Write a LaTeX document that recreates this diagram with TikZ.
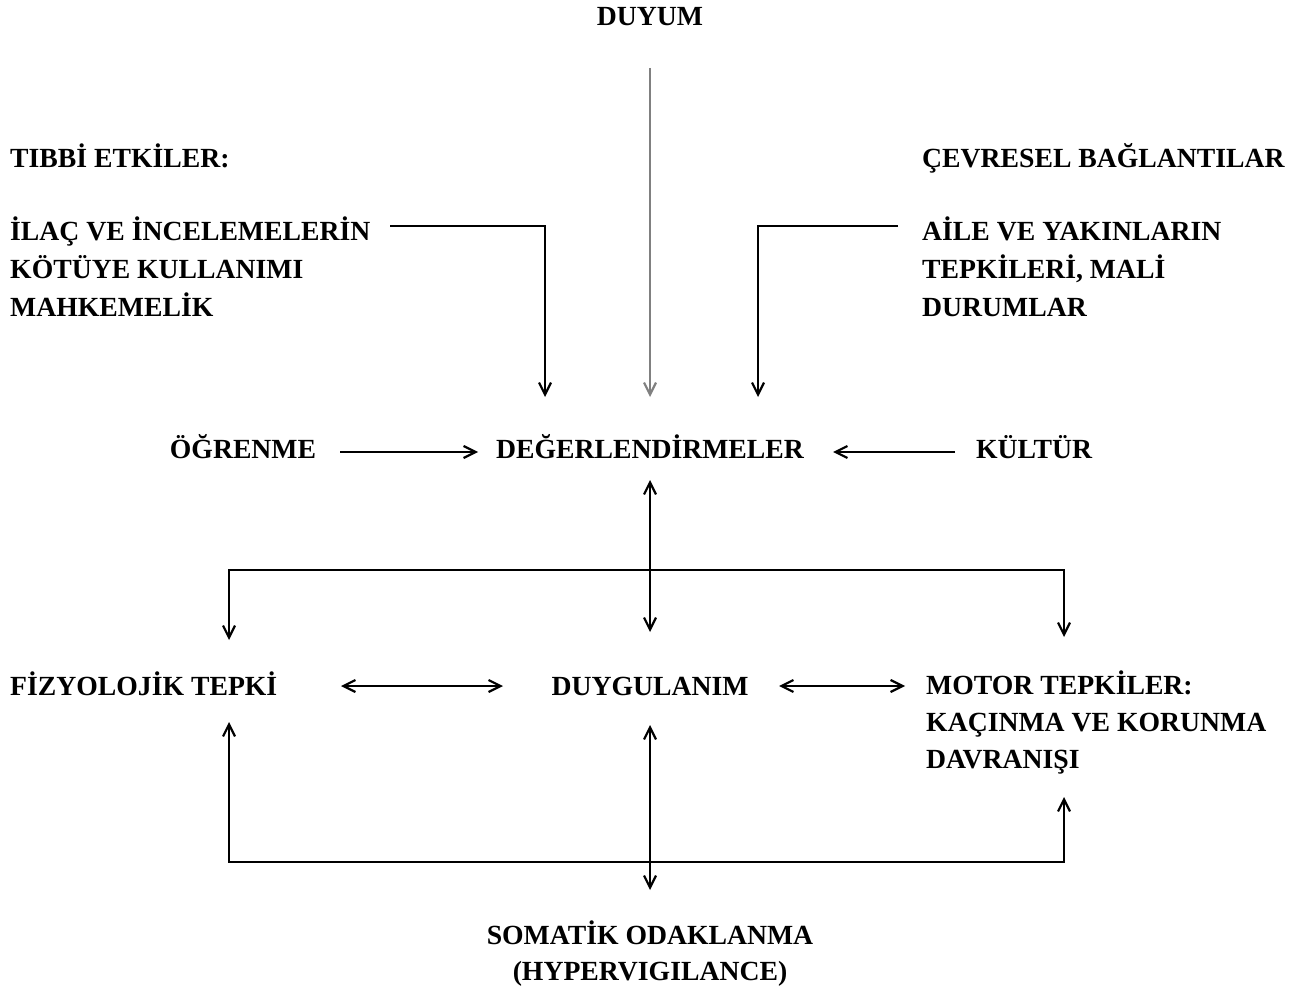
\documentclass[tikz,border=0pt]{standalone}
\usepackage{fontspec}
\setmainfont{Liberation Serif}
\usetikzlibrary{arrows.meta,calc}
\begin{document}
\begin{tikzpicture}[x=1pt,y=-1pt,
  lbl/.style={inner sep=0pt,font=\bfseries\fontsize{27.7}{38}\selectfont},
  tip/.tip={Straight Barb[length=12pt,width=12pt,line width=2.2pt]},
  conn/.style={line width=2pt,-tip},
  dconn/.style={line width=2pt,tip-tip},
  plain/.style={line width=2pt}]
\useasboundingbox (0,0) rectangle (1298,992);
% nodes
\node[lbl,anchor=base] (duyum) at (650,26) {DUYUM};
\node[lbl,anchor=base west] (tibbi) at (10,168) {TIBBİ ETKİLER:};
\node[lbl,anchor=north west,align=left] (ilac) at (10,213.4) {\strut İLAÇ VE İNCELEMELERİN\\KÖTÜYE KULLANIMI\\MAHKEMELİK};
\node[lbl,anchor=base west] (cevre) at (922,168) {ÇEVRESEL BAĞLANTILAR};
\node[lbl,anchor=north west,align=left] (aile) at (922,213.4) {\strut AİLE VE YAKINLARIN\\TEPKİLERİ, MALİ\\DURUMLAR};
\node[lbl,anchor=base] (ogr) at (243,458) {ÖĞRENME};
\node[lbl,anchor=base] (deg) at (650,458) {DEĞERLENDİRMELER};
\node[lbl,anchor=base] (kul) at (1034,458) {KÜLTÜR};
\node[lbl,anchor=base west] (fiz) at (10,695) {FİZYOLOJİK TEPKİ};
\node[lbl,anchor=base] (duyg) at (650,695) {DUYGULANIM};
\node[lbl,anchor=north west,align=left,font=\bfseries\fontsize{27.7}{37}\selectfont] (motor) at (926,668.4) {\strut MOTOR TEPKİLER:\\KAÇINMA VE KORUNMA\\DAVRANIŞI};
\node[lbl,anchor=north,align=center,font=\bfseries\fontsize{27.7}{36}\selectfont] (som) at (650,919.4) {\strut SOMATİK ODAKLANMA\\(HYPERVIGILANCE)};
% connector points
\coordinate (ilacR) at (390,226);
\coordinate (aileL) at (898,226);
\coordinate (degTop) at ($(deg.base)+(0,-61)$);
\coordinate (degTopL) at ($(deg.base)+(-105,-61)$);
\coordinate (degTopR) at ($(deg.base)+(108,-61)$);
\coordinate (degBot) at ($(deg.base)+(0,22)$);
\coordinate (duygTop) at ($(duyg.base)+(0,-63)$);
\coordinate (duygBot) at ($(duyg.base)+(0,30)$);
\coordinate (fizTop) at (229,640);
\coordinate (fizBot) at (229,722);
\coordinate (motTop) at (1064,637);
\coordinate (motBot) at (1064,797);
\coordinate (somTop) at (650,890);
% connectors
\draw[conn,draw=black!50] ($(duyum.base)+(0,42)$) -- (degTop);
\draw[conn] (ilacR) -| (degTopL);
\draw[conn] (aileL) -| (degTopR);
\draw[conn] ($(ogr.base)+(97,-6)$) -- ($(deg.base)+(-172,-6)$);
\draw[conn] ($(kul.base)+(-79,-6)$) -- ($(deg.base)+(183,-6)$);
\draw[dconn] (degBot) -- (duygTop);
\draw[dconn] (fizTop) -- (229,570) -- (1064,570) -- (motTop);
\draw[dconn] ($(fiz.base west)+(331,-9)$) -- ($(duyg.base)+(-147,-9)$);
\draw[dconn] ($(duyg.base)+(129,-9)$) -- ($(motor.north west)+(-21,17.6)$);
\draw[dconn] (duygBot) -- (somTop);
\draw[dconn] (fizBot) -- (229,862) -- (1064,862) -- (motBot);
\end{tikzpicture}
\end{document}
